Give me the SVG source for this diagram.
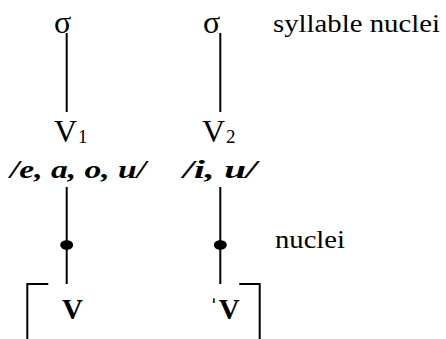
<svg xmlns="http://www.w3.org/2000/svg" width="446" height="339" viewBox="0 0 446 339">
<style>
text { fill: #000; font-family: "Liberation Serif", "Times New Roman", serif; }
.lbl { font-size: 26px; }
.sig { font-size: 32px; }
.v { font-size: 32px; }
.sub { font-size: 19px; }
.set { font-size: 26px; font-weight: bold; font-style: italic; }
.bv { font-size: 29px; font-weight: bold; }
.ln { stroke: #000; stroke-width: 2; fill: none; }
.dot { fill: #000; }
</style>
<rect width="446" height="339" fill="#fff"/>
<g id="connectors">
  <line class="ln" x1="66.7" y1="33" x2="66.7" y2="112"/>
  <line class="ln" x1="220.3" y1="33" x2="220.3" y2="112"/>
  <line class="ln" x1="66.7" y1="187" x2="66.7" y2="284"/>
  <line class="ln" x1="220.3" y1="187" x2="220.3" y2="284"/>
  <ellipse class="dot" cx="66.7" cy="245" rx="6.5" ry="4.8"/>
  <ellipse class="dot" cx="220.3" cy="245" rx="6.5" ry="4.8"/>
</g>
<g id="sigma1"><text class="sig" x="54" y="33">σ</text></g>
<g id="sigma2"><text class="sig" x="203" y="33">σ</text></g>
<g id="label-syllable"><text class="lbl" x="273" y="32" textLength="167" lengthAdjust="spacingAndGlyphs">syllable nuclei</text></g>
<g id="v1"><text class="v" x="54" y="142">V<tspan class="sub" dx="1" y="143">1</tspan></text></g>
<g id="v2"><text class="v" x="202" y="142">V<tspan class="sub" dx="1" y="143">2</tspan></text></g>
<g id="set1"><text class="set" x="10" y="178" textLength="136" lengthAdjust="spacingAndGlyphs">/e, a, o, u/</text></g>
<g id="set2"><text class="set" x="183" y="178" textLength="74" lengthAdjust="spacingAndGlyphs">/i, u/</text></g>
<g id="label-nuclei"><text class="lbl" x="275" y="248" textLength="70" lengthAdjust="spacingAndGlyphs">nuclei</text></g>
<g id="bracket-left">
  <polyline class="ln" points="48.3,284 27.3,284 27.3,339"/>
  <text class="bv" x="62" y="319">V</text>
</g>
<g id="bracket-right">
  <polyline class="ln" points="239.3,284 259.7,284 259.7,339"/>
  <text class="bv" x="209" y="319">ˈV</text>
</g>
</svg>
